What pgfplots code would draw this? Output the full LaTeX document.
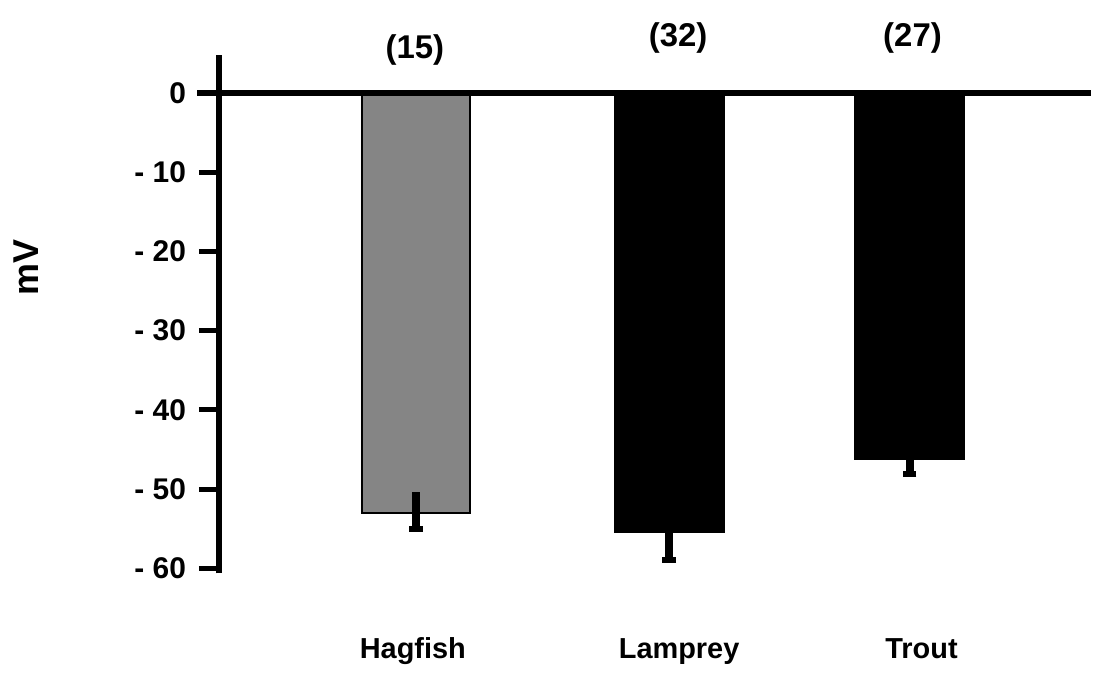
\documentclass[border=0pt]{standalone}
\usepackage{fontspec}
\setmainfont{Liberation Sans}
\usepackage{pgfplots}
\pgfplotsset{compat=1.18}
\begin{document}
\begin{tikzpicture}
\begin{axis}[
  scale only axis,
  width=437.25pt, height=260pt,
  xmin=219.5, xmax=1094,
  ymin=-60.63, ymax=4.78,
  axis x line=none,
  axis y line*=left,
  y axis line style={line width=3pt, -},
  ytick={-60,-50,-40,-30,-20,-10,0},
  yticklabels={- 60,- 50,- 40,- 30,- 20,- 10,0},
  tick align=outside,
  major tick length=10pt,
  tick style={line width=2.5pt, black},
  yticklabel style={font=\fontsize{15}{17}\selectfont\bfseries, xshift=-3pt},
  clip=false,
  ybar, bar width=109, bar shift=0pt,
]
\addplot[fill=black!48, draw=black, line width=1pt,
  error bars/.cd, y dir=minus, y explicit,
  error bar style={line width=4pt, black},
  error mark options={rotate=90, mark size=3.5pt, line width=3pt, black}]
  coordinates {(417,-53.0) +- (0,2.0)};
\addplot[draw=none, fill=none, forget plot,
  error bars/.cd, y dir=plus, y explicit,
  error bar style={line width=4pt, black},
  error mark=none]
  coordinates {(417,-53.0) +- (0,2.6)};
\addplot[fill=black, draw=black, line width=1pt,
  error bars/.cd, y dir=both, y explicit,
  error bar style={line width=4pt, black},
  error mark options={rotate=90, mark size=3.5pt, line width=3pt, black}]
  coordinates {(671,-55.4) +- (0,3.5) (912,-46.2) +- (0,1.9)};
\draw[line width=3pt] (axis cs:198,0) -- (axis cs:1094,0);
\path (axis cs:0,11.70) (axis cs:1094,-73.21);
\node[font=\fontsize{14.5}{16}\selectfont\bfseries, anchor=base] at (axis cs:414,-71.3) {Hagfish};
\node[font=\fontsize{14.5}{16}\selectfont\bfseries, anchor=base] at (axis cs:681,-71.3) {Lamprey};
\node[font=\fontsize{14.5}{16}\selectfont\bfseries, anchor=base] at (axis cs:924,-71.3) {Trout};
\node[font=\fontsize{16.5}{18}\selectfont\bfseries, anchor=base] at (axis cs:416,4.28) {(15)};
\node[font=\fontsize{16.5}{18}\selectfont\bfseries, anchor=base] at (axis cs:680,5.79) {(32)};
\node[font=\fontsize{16.5}{18}\selectfont\bfseries, anchor=base] at (axis cs:915,5.79) {(27)};
\node[font=\fontsize{18}{20}\selectfont\bfseries, rotate=90, anchor=center] at (axis cs:26,-22.0) {mV};
\end{axis}
\end{tikzpicture}
\end{document}
